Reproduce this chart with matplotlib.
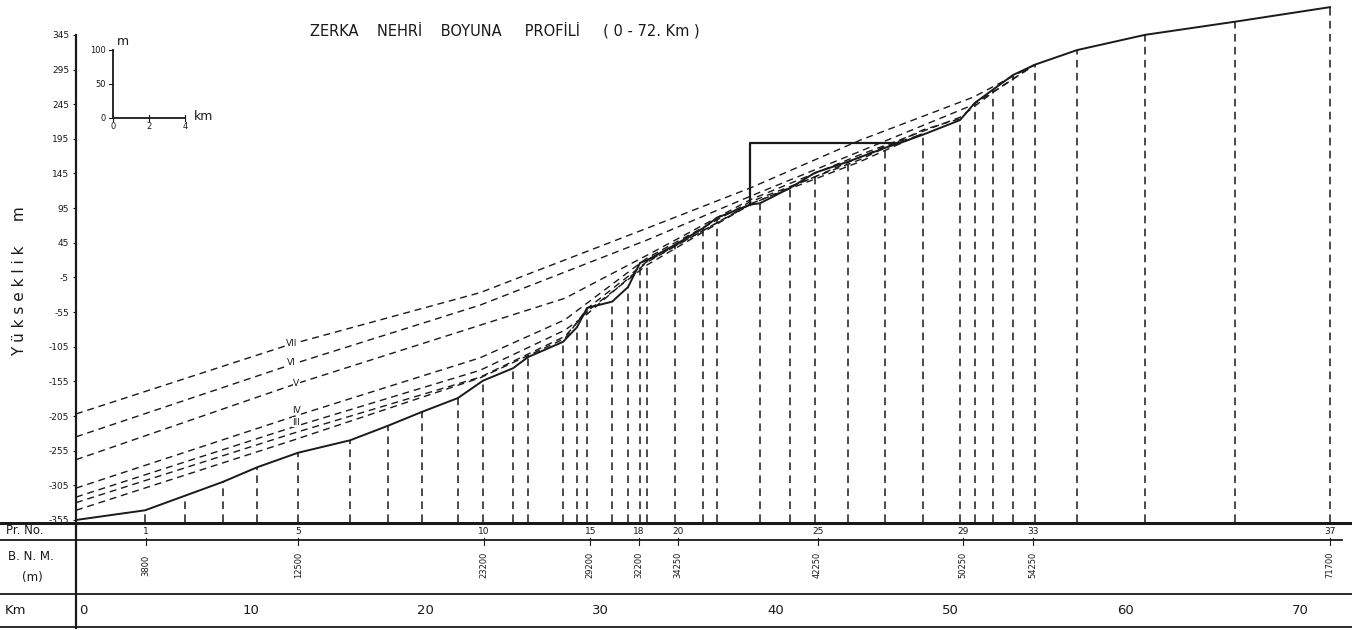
import matplotlib.pyplot as plt
import numpy as np

# --- data ----------------------------------------------------------------
# thalweg (river bed) profile: km from mouth, elevation in the drawing's units
profile_km = [0.00, 3.95, 6.23, 8.40, 10.35, 12.69, 15.67, 17.84, 19.78, 21.84,
              23.27, 24.99, 25.84, 27.84, 28.64, 29.22, 30.65, 31.56, 32.25, 32.65,
              34.25, 35.85, 36.65, 38.54, 39.11, 40.82, 42.25, 44.14, 46.26, 47.11,
              48.43, 50.54, 51.40, 52.43, 53.57, 54.83, 57.23, 61.12, 66.27, 71.70]
profile_elev = [-355, -341, -320, -300, -279, -258, -240, -219, -199, -179,
                -154, -136, -120, -98, -77, -49, -40, -19, 16, 20,
                42, 66, 81, 100, 102, 124, 146, 162, 182, 189,
                201, 222, 247, 266, 287, 302, 323, 345, 364, 385]

# cross-section stations (vertical dashed lines)
stations = [3.95, 6.23, 8.40, 10.35, 12.69, 15.67, 17.84, 19.78, 21.84, 23.27,
            24.99, 25.84, 27.84, 28.64, 29.22, 30.65, 31.56, 32.25, 32.65, 34.25,
            35.85, 36.65, 39.11, 40.82, 42.25, 44.14, 46.26, 48.43, 50.54, 51.40,
            52.43, 53.57, 54.83, 57.23, 61.12, 66.27, 71.70]

# dam and reservoir level
dam_km = 38.54
dam_crest = 189
reservoir_end_km = 47.11

# water surface profiles I..VII
surf_VII_km = [0, 12.2, 23.1, 32.65, 38.54, 44.83, 51.29, 54.83]
surf_VII = [-202, -102, -27, 66, 124, 193, 255, 302]
surf_VI_km = [0, 12.4, 23.1, 32.65, 38.54, 44.83, 51.29, 54.83]
surf_VI = [-235, -130, -45, 49, 112, 177, 244, 302]
surf_V_km = [0, 12.4, 23.1, 27.96, 32.65, 38.54, 44.83, 50.54, 52.43, 54.83]
surf_V = [-268, -160, -74, -35, 27, 107, 172, 226, 262, 302]
surf_IV_km = [0, 12.4, 23.1, 27.96, 32.65, 38.54, 44.83, 48.43, 50.54]
surf_IV = [-309, -206, -121, -66, 23, 104, 165, 208, 224]
surf_III_km = [0, 12.4, 23.1, 27.96, 29.22, 32.65, 38.54, 44.83, 48.43]
surf_III = [-322, -221, -139, -81, -58, 17, 101, 162, 203]
surf_II_km = [0, 12.4, 23.1, 27.96, 29.22, 32.65, 38.54, 46.26, 48.43]
surf_II = [-330, -230, -149, -90, -54, 13, 100, 184, 202]
surf_I_km = [0, 12.4, 23.1, 27.96, 29.22, 32.65, 38.54]
surf_I = [-341, -240, -150, -93, -50, 18, 100]

surf_names = ["VII", "VI", "V", "IV", "III"]
surf_label_km = [12.3, 12.3, 12.6, 12.6, 12.6]
surf_label_elev = [-100, -128, -158, -197, -214]

# table rows
pr_km = [4.0, 12.7, 23.3, 29.4, 32.2, 34.4, 42.4, 50.7, 54.7, 71.7]
pr_no = ["1", "5", "10", "15", "18", "20", "25", "29", "33", "37"]
bnm = ["3800", "12500", "23200", "29200", "32200", "34250", "42250", "50250", "54250", "71700"]
km_ticks = [0, 10, 20, 30, 40, 50, 60, 70]

y_ticks = [345, 295, 245, 195, 145, 95, 45, -5, -55, -105, -155, -205, -255, -305, -355]

ink = "#1a1a1a"
W, H = 1352, 630
px_per_km = 17.49

fig = plt.figure(figsize=(W / 100, H / 100), dpi=100)
ax = fig.add_axes([76 / W, 108 / H, 1268 / W, 522 / H])
ax.set_xlim(0, 1268 / px_per_km)
ax.set_ylim(-357.9, 395.3)

# profile
ax.plot(profile_km, profile_elev, color=ink, lw=1.4, solid_joinstyle="miter")

# stations
top = np.interp(stations, profile_km, profile_elev)
for s, t in zip(stations, top):
    ax.plot([s, s], [-357.9, t], color=ink, lw=1.1, ls=(0, (5, 3.5)))

# dam + reservoir
ax.plot([dam_km, dam_km, reservoir_end_km], [np.interp(dam_km, profile_km, profile_elev), dam_crest, dam_crest],
        color=ink, lw=1.6)

# water surfaces
surfs = [(surf_VII_km, surf_VII), (surf_VI_km, surf_VI), (surf_V_km, surf_V),
         (surf_IV_km, surf_IV), (surf_III_km, surf_III), (surf_II_km, surf_II), (surf_I_km, surf_I)]
for k, v in surfs:
    ax.plot(k, v, color=ink, lw=1.0, ls=(0, (5, 3.5)))

for name, k, v in zip(surf_names, surf_label_km, surf_label_elev):
    ax.text(k, v, name, fontsize=6.5, color=ink, ha="center", va="center",
            bbox=dict(facecolor="white", edgecolor="none", pad=0.3))

# axis
for sp in ["top", "right", "bottom"]:
    ax.spines[sp].set_visible(False)
ax.spines["left"].set_bounds(-357.9, 345)
ax.spines["left"].set_linewidth(1.6)
ax.spines["left"].set_color(ink)
ax.set_xticks([])
ax.set_yticks(y_ticks)
ax.set_yticklabels([str(t) for t in y_ticks])
ax.tick_params(axis="y", length=2, width=0.8, labelsize=6.5, pad=3, colors=ink)

# scale bar (m / km)
sx0, sx1, sy0, sy1 = 2.12, 6.23, 225, 323
ax.plot([sx0, sx0], [sy0, sy1], color=ink, lw=1.3)
ax.plot([sx0, sx1], [sy0, sy0], color=ink, lw=1.3)
for yy, lab in zip([sy0, (sy0 + sy1) / 2, sy1], ["0", "50", "100"]):
    ax.plot([sx0 - 0.25, sx0], [yy, yy], color=ink, lw=0.8)
    ax.text(sx0 - 0.4, yy, lab, fontsize=6, ha="right", va="center", color=ink)
for xx, lab in zip([sx0, (sx0 + sx1) / 2, sx1], ["0", "2", "4"]):
    ax.plot([xx, xx], [sy0 - 4, sy0 + 4], color=ink, lw=0.8)
    ax.text(xx, sy0 - 12, lab, fontsize=6, ha="center", va="center", color=ink)
ax.text(sx0 + 0.2, sy1 + 12, "m", fontsize=9, ha="left", va="center", color=ink)
ax.text(sx1 + 0.5, sy0 + 2, "km", fontsize=9, ha="left", va="center", color=ink)

# title and y label
fig.text(310 / W, 1 - 30 / H, "ZERKA    NEHRİ    BOYUNA     PROFİLİ     ( 0 - 72. Km )",
         fontsize=10.5, ha="left", va="center", color=ink)
fig.text(20 / W, 1 - 281 / H, "Y ü k s e k l i k     m", fontsize=11, rotation=90,
         ha="center", va="center", color=ink)

# table below
tab = fig.add_axes([0, 0, 1, 108 / H])
tab.set_xlim(-76 / px_per_km, (W - 76) / px_per_km)
tab.set_ylim(H, 522)
tab.axis("off")
x_left = -76 / px_per_km
tab.plot([x_left, 72.96], [523, 523], color=ink, lw=2.2)
tab.plot([x_left, 72.4], [540, 540], color=ink, lw=1.3)
tab.plot([x_left, 72.96], [594, 594], color=ink, lw=1.3)
tab.plot([x_left, 72.96], [627, 627], color=ink, lw=1.3)
tab.plot([0, 0], [522, 628], color=ink, lw=1.6)

tab.text(-4.0, 531, "Pr. No.", fontsize=8.5, ha="left", va="center", color=ink)
tab.text(-3.9, 557, "B. N. M.", fontsize=8.5, ha="left", va="center", color=ink)
tab.text(-3.1, 577, "(m)", fontsize=8.5, ha="left", va="center", color=ink)
tab.text(-4.1, 611, "Km", fontsize=9.5, ha="left", va="center", color=ink)

for k, n, b in zip(pr_km, pr_no, bnm):
    tab.text(k, 531, n, fontsize=6.5, ha="center", va="center", color=ink)
    tab.plot([k, k], [538, 545], color=ink, lw=0.8)
    tab.text(k, 565, b, fontsize=6, ha="center", va="center", rotation=90, color=ink)

for t in km_ticks:
    if t == 0:
        tab.text(0.2, 611, "0", fontsize=9.5, ha="left", va="center", color=ink)
    else:
        tab.text(t, 611, str(t), fontsize=9.5, ha="center", va="center", color=ink)

fig.savefig("out.png", dpi=100, facecolor="white")
